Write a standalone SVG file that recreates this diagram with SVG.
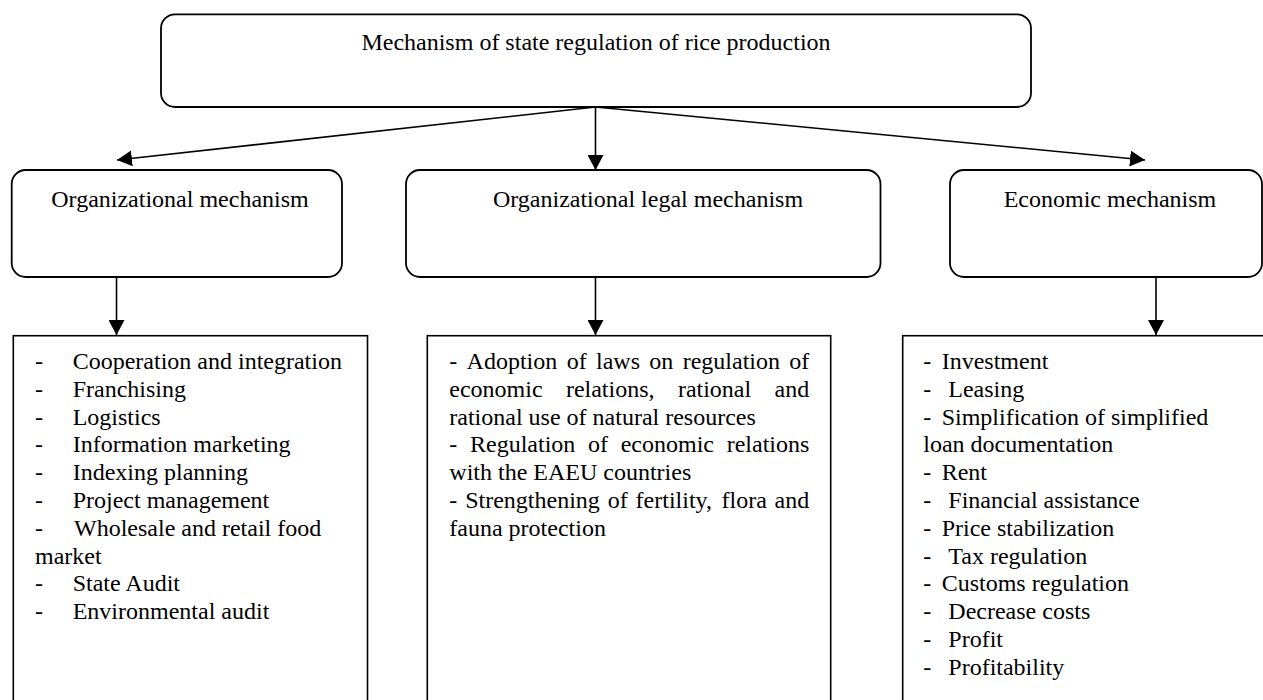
<svg xmlns="http://www.w3.org/2000/svg" width="1263" height="700" viewBox="0 0 1263 700">
<style>
  .rbox { fill: #ffffff; stroke: #000000; stroke-width: 1.8; }
  .box { fill: #ffffff; stroke: #000000; stroke-width: 1.6; }
  .t { font-family: "Liberation Serif", "Times New Roman", serif; font-size: 24px; fill: #000000; }
  .mid { text-anchor: middle; }
  .conn { stroke: #000000; stroke-width: 1.6; fill: none; marker-end: url(#arrow); }
</style>
<defs>
  <marker id="arrow" markerUnits="userSpaceOnUse" markerWidth="16" markerHeight="16" viewBox="0 0 16 16" refX="15" refY="8" orient="auto">
    <path d="M0,0 L15,8 L0,16 Z" fill="#000000"/>
  </marker>
</defs>
<rect width="1263" height="700" fill="#ffffff"/>

<g id="connectors">
  <line class="conn" x1="595.5" y1="107" x2="117" y2="160"/>
  <line class="conn" x1="595.5" y1="107" x2="595.5" y2="170"/>
  <line class="conn" x1="595.5" y1="107" x2="1145" y2="160"/>
  <line class="conn" x1="116.5" y1="277" x2="116.5" y2="335"/>
  <line class="conn" x1="595.5" y1="277" x2="595.5" y2="335"/>
  <line class="conn" x1="1156" y1="277" x2="1156" y2="335"/>
</g>

<g id="root">
  <rect class="rbox" x="161" y="14.3" width="870" height="92.7" rx="14" ry="14"/>
  <text class="t mid" x="596" y="50">Mechanism of state regulation of rice production</text>
</g>

<g id="org">
  <rect class="rbox" x="11.7" y="170" width="330.3" height="107" rx="14" ry="14"/>
  <text class="t mid" x="180" y="207">Organizational mechanism</text>
</g>

<g id="legal">
  <rect class="rbox" x="406" y="170" width="474.5" height="107" rx="14" ry="14"/>
  <text class="t mid" x="648" y="207">Organizational legal mechanism</text>
</g>

<g id="econ">
  <rect class="rbox" x="950" y="170" width="312" height="107" rx="14" ry="14"/>
  <text class="t mid" x="1110" y="207">Economic mechanism</text>
</g>

<g id="org-list">
  <rect class="box" x="13.3" y="335.7" width="354.2" height="380"/>
  <text class="t">
    <tspan x="35" y="369">-</tspan><tspan x="72.7" y="369">Cooperation and integration</tspan>
    <tspan x="35" y="396.8">-</tspan><tspan x="72.7" y="396.8">Franchising</tspan>
    <tspan x="35" y="424.6">-</tspan><tspan x="72.7" y="424.6">Logistics</tspan>
    <tspan x="35" y="452.4">-</tspan><tspan x="72.7" y="452.4">Information marketing</tspan>
    <tspan x="35" y="480.2">-</tspan><tspan x="72.7" y="480.2">Indexing planning</tspan>
    <tspan x="35" y="508">-</tspan><tspan x="72.7" y="508">Project management</tspan>
    <tspan x="35" y="535.8">-</tspan><tspan x="74" y="535.8">Wholesale and retail food</tspan>
    <tspan x="35" y="563.6">market</tspan>
    <tspan x="35" y="591.4">-</tspan><tspan x="72.7" y="591.4">State Audit</tspan>
    <tspan x="35" y="619.2">-</tspan><tspan x="72.7" y="619.2">Environmental audit</tspan>
  </text>
</g>

<g id="legal-list">
  <rect class="box" x="427.3" y="335.7" width="403.4" height="380"/>
  <text class="t">
    <tspan x="449.3" y="369">-</tspan><tspan x="466.6" y="369">Adoption</tspan><tspan x="566.7" y="369">of</tspan><tspan x="596" y="369">laws</tspan><tspan x="649.3" y="369">on</tspan><tspan x="682.7" y="369">regulation</tspan><tspan x="789.3" y="369">of</tspan>
    <tspan x="449.3" y="396.8">economic</tspan><tspan x="565.9" y="396.8">relations,</tspan><tspan x="677.9" y="396.8">rational</tspan><tspan x="774.5" y="396.8">and</tspan>
    <tspan x="449.3" y="424.6">rational use of natural resources</tspan>
    <tspan x="449.3" y="452.4">-</tspan><tspan x="470" y="452.4">Regulation</tspan><tspan x="588" y="452.4">of</tspan><tspan x="620.7" y="452.4">economic</tspan><tspan x="726.7" y="452.4">relations</tspan>
    <tspan x="449.3" y="480.2">with the EAEU countries</tspan>
    <tspan x="449.3" y="508">-</tspan><tspan x="465.2" y="508">Strengthening</tspan><tspan x="607.8" y="508">of</tspan><tspan x="635.6" y="508">fertility,</tspan><tspan x="721.5" y="508">flora</tspan><tspan x="774.6" y="508">and</tspan>
    <tspan x="449.3" y="535.8">fauna protection</tspan>
  </text>
</g>

<g id="econ-list">
  <rect class="box" x="902.7" y="335.7" width="380" height="380"/>
  <text class="t">
    <tspan x="923.3" y="369">-</tspan><tspan x="941.7" y="369">Investment</tspan>
    <tspan x="923.3" y="396.8">-</tspan><tspan x="948.3" y="396.8">Leasing</tspan>
    <tspan x="923.3" y="424.6">-</tspan><tspan x="941.7" y="424.6">Simplification of simplified</tspan>
    <tspan x="923.3" y="452.4">loan documentation</tspan>
    <tspan x="923.3" y="480.2">-</tspan><tspan x="941.7" y="480.2">Rent</tspan>
    <tspan x="923.3" y="508">-</tspan><tspan x="948.3" y="508">Financial assistance</tspan>
    <tspan x="923.3" y="535.8">-</tspan><tspan x="941.7" y="535.8">Price stabilization</tspan>
    <tspan x="923.3" y="563.6">-</tspan><tspan x="948.3" y="563.6">Tax regulation</tspan>
    <tspan x="923.3" y="591.4">-</tspan><tspan x="941.7" y="591.4">Customs regulation</tspan>
    <tspan x="923.3" y="619.2">-</tspan><tspan x="948.3" y="619.2">Decrease costs</tspan>
    <tspan x="923.3" y="647">-</tspan><tspan x="948.3" y="647">Profit</tspan>
    <tspan x="923.3" y="674.8">-</tspan><tspan x="948.3" y="674.8">Profitability</tspan>
  </text>
</g>
</svg>
